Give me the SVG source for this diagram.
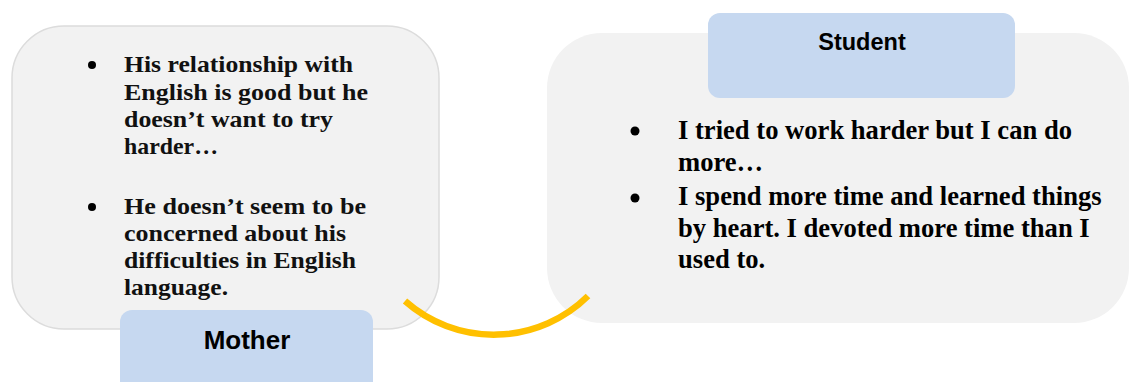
<svg xmlns="http://www.w3.org/2000/svg" width="1129" height="382" viewBox="0 0 1129 382">
<style>
.panel{fill:#f2f2f2}
.label{fill:#c6d8f0}
.lt{font-family:"Liberation Serif","Times New Roman",serif;font-weight:bold;font-size:24px;fill:#111}
.rt{font-family:"Liberation Serif","Times New Roman",serif;font-weight:bold;font-size:26.6px;fill:#000}
.hd{font-family:"Liberation Sans",Arial,sans-serif;font-weight:bold;fill:#000;text-anchor:middle}
.conn{fill:none;stroke:#ffc000;stroke-width:6.5}
</style>
<rect width="1129" height="382" fill="#fff"/>
<g id="mother-panel">
<rect class="panel" x="12" y="26" width="427" height="303" rx="52" ry="52" stroke="#dcdcdc" stroke-width="1.5"/>
<circle cx="92" cy="65" r="4" fill="#000"/>
<text class="lt" x="124" y="72" textLength="229" lengthAdjust="spacingAndGlyphs">His relationship  with</text>
<text class="lt" x="124" y="100" textLength="244" lengthAdjust="spacingAndGlyphs">English  is good but  he</text>
<text class="lt" x="124" y="127" textLength="209" lengthAdjust="spacingAndGlyphs">doesn’t want  to try</text>
<text class="lt" x="124" y="154" textLength="94" lengthAdjust="spacingAndGlyphs">harder…</text>
<circle cx="92" cy="207" r="4" fill="#000"/>
<text class="lt" x="124" y="214" textLength="242" lengthAdjust="spacingAndGlyphs">He doesn’t seem to be</text>
<text class="lt" x="124" y="241" textLength="222" lengthAdjust="spacingAndGlyphs">concerned  about his</text>
<text class="lt" x="124" y="268" textLength="232" lengthAdjust="spacingAndGlyphs">difficulties  in English</text>
<text class="lt" x="124" y="295" textLength="104" lengthAdjust="spacingAndGlyphs">language.</text>
</g>
<g id="student-panel">
<rect class="panel" x="547" y="33" width="582" height="290" rx="55" ry="55"/>
<circle cx="635" cy="131" r="4.5" fill="#000"/>
<text class="rt" x="678" y="139">I tried to work harder but I can do</text>
<text class="rt" x="678" y="171">more…</text>
<circle cx="635" cy="198" r="4.5" fill="#000"/>
<text class="rt" x="678" y="205">I spend more time and learned things</text>
<text class="rt" x="678" y="237">by heart. I devoted more time than I</text>
<text class="rt" x="678" y="268">used to.</text>
</g>
<g id="connectors">
<path class="conn" d="M405,301 A134,134 0 0,0 588,296"/>
</g>
<g id="student-label">
<rect class="label" x="708" y="13" width="307" height="85" rx="12" ry="12"/>
<text class="hd" x="862" y="50" font-size="23.5">Student</text>
</g>
<g id="mother-label">
<rect class="label" x="120" y="310" width="253" height="90" rx="12" ry="12"/>
<text class="hd" x="247" y="349" font-size="26">Mother</text>
</g>
</svg>
